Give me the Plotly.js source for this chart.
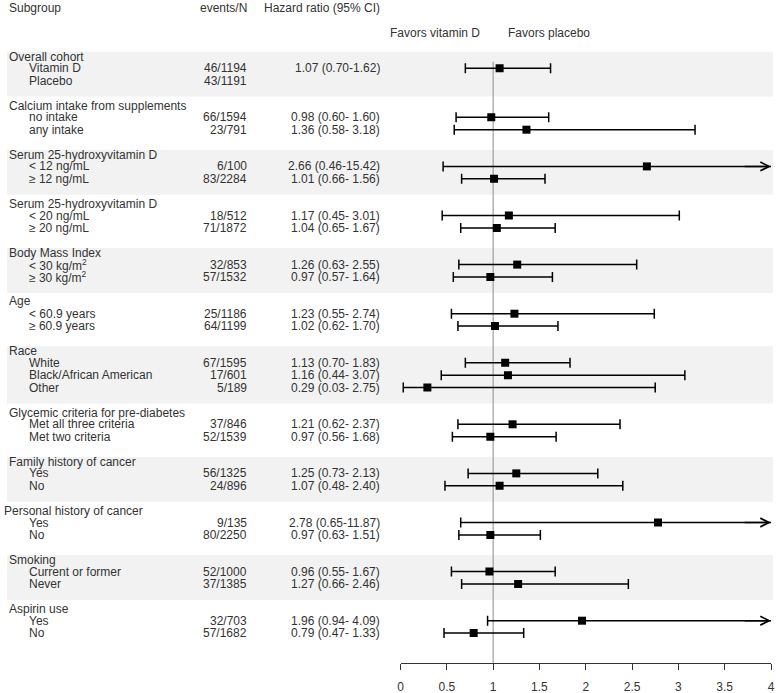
<!DOCTYPE html>
<html><head><meta charset="utf-8">
<script src="https://cdn.plot.ly/plotly-3.0.1.min.js"></script>
<style>html,body{margin:0;padding:0;background:#fff}</style>
</head><body><div id="chart" style="width:780px;height:693px"></div>
<script>
// ---------- DATA ----------
const groupNames = ['Overall cohort', 'Calcium intake from supplements', 'Serum 25-hydroxyvitamin D',
  'Serum 25-hydroxyvitamin D', 'Body Mass Index', 'Age', 'Race', 'Glycemic criteria for pre-diabetes',
  'Family history of cancer', 'Personal history of cancer', 'Smoking', 'Aspirin use'];
const groupSizes = [2, 2, 2, 2, 2, 2, 3, 2, 2, 2, 2, 2];
const subgroupLabels = ['Vitamin D', 'Placebo', 'no intake', 'any intake', '< 12 ng/mL', '≥ 12 ng/mL',
  '< 20 ng/mL', '≥ 20 ng/mL', '< 30 kg/m<sup>2</sup>', '≥ 30 kg/m<sup>2</sup>', '< 60.9 years', '≥ 60.9 years',
  'White', 'Black/African American', 'Other', 'Met all three criteria', 'Met two criteria',
  'Yes', 'No', 'Yes', 'No', 'Current or former', 'Never', 'Yes', 'No'];
const eventsN = ['46/1194', '43/1191', '66/1594', '23/791', '6/100', '83/2284', '18/512', '71/1872',
  '32/853', '57/1532', '25/1186', '64/1199', '67/1595', '17/601', '5/189', '37/846', '52/1539',
  '56/1325', '24/896', '9/135', '80/2250', '52/1000', '37/1385', '32/703', '57/1682'];
const hr = [1.07, null, 0.98, 1.36, 2.66, 1.01, 1.17, 1.04, 1.26, 0.97, 1.23, 1.02, 1.13, 1.16, 0.29,
  1.21, 0.97, 1.25, 1.07, 2.78, 0.97, 0.96, 1.27, 1.96, 0.79];
const ciLow = [0.70, null, 0.60, 0.58, 0.46, 0.66, 0.45, 0.65, 0.63, 0.57, 0.55, 0.62, 0.70, 0.44, 0.03,
  0.62, 0.56, 0.73, 0.48, 0.65, 0.63, 0.55, 0.66, 0.94, 0.47];
const ciHigh = [1.62, null, 1.60, 3.18, 15.42, 1.56, 3.01, 1.67, 2.55, 1.64, 2.74, 1.70, 1.83, 3.07, 2.75,
  2.37, 1.68, 2.13, 2.40, 11.87, 1.51, 1.67, 2.46, 4.09, 1.33];
const hrLabels = ['1.07 (0.70-1.62)', '', '0.98 (0.60- 1.60)', '1.36 (0.58- 3.18)', '2.66 (0.46-15.42)',
  '1.01 (0.66- 1.56)', '1.17 (0.45- 3.01)', '1.04 (0.65- 1.67)', '1.26 (0.63- 2.55)', '0.97 (0.57- 1.64)',
  '1.23 (0.55- 2.74)', '1.02 (0.62- 1.70)', '1.13 (0.70- 1.83)', '1.16 (0.44- 3.07)', '0.29 (0.03- 2.75)',
  '1.21 (0.62- 2.37)', '0.97 (0.56- 1.68)', '1.25 (0.73- 2.13)', '1.07 (0.48- 2.40)', '2.78 (0.65-11.87)',
  '0.97 (0.63- 1.51)', '0.96 (0.55- 1.67)', '1.27 (0.66- 2.46)', '1.96 (0.94- 4.09)', '0.79 (0.47- 1.33)'];
const columnHeaders = ['Subgroup', 'events/N', 'Hazard ratio (95% CI)'];
const favorLabels = ['Favors vitamin D', 'Favors placebo'];
const xTickVals = [0, 0.5, 1, 1.5, 2, 2.5, 3, 3.5, 4];
const xTickText = ['0', '0.5', '1', '1.5', '2', '2.5', '3', '3.5', '4'];

// ---------- LAYOUT GEOMETRY ----------
const W = 780, H = 693, AXIS_Y = 663;
const X0PX = 400.5, X4PX = 771;
const FIRST_HEADER = 56.5, HEADER_TO_ITEM = 11.7, ROW = 12.4, GROUP_GAP = 25;
const FONT = 'Liberation Sans, Arial, sans-serif';
const TXT = '#333333';
const XMAX = 4;

const headerY = [], itemY = [];
let y = FIRST_HEADER;
groupSizes.forEach((n, g) => {
  headerY.push(y);
  let iy = y + HEADER_TO_ITEM;
  for (let i = 0; i < n; i++) { itemY.push(iy); iy += ROW; }
  y = iy - ROW + GROUP_GAP;
});

const px = v => v / W;
const annotations = [];
function txt(x, yv, text, anchor) {
  annotations.push({
    xref: 'paper', yref: 'y', x: px(x), y: yv, text: text, showarrow: false,
    xanchor: anchor, yanchor: 'middle', font: {family: FONT, size: 12, color: TXT}
  });
}
// column headers
txt(7, 7.5, columnHeaders[0], 'left');
txt(249, 7.5, columnHeaders[1], 'right');
txt(382, 7.5, columnHeaders[2], 'right');
txt(482, 32.5, favorLabels[0], 'right');
txt(506, 32.5, favorLabels[1], 'left');

groupNames.forEach((name, g) => {
  let gx = 7, gy = headerY[g];
  if (name === 'Personal history of cancer') gx = 2;
  if (name === 'Age') gy = headerY[g] - 1;
  txt(gx, gy, name, 'left');
});
subgroupLabels.forEach((lab, i) => {
  txt(27, itemY[i], lab, 'left');
  txt(249, itemY[i], eventsN[i], 'right');
  if (hrLabels[i]) txt(382, itemY[i], hrLabels[i], 'right');
});

// points + arrows for CIs beyond the axis
const mx = [], my = [], ePlus = [], eMinus = [];
hr.forEach((v, i) => {
  if (v === null) return;
  mx.push(v); my.push(itemY[i]);
  ePlus.push(ciHigh[i] - v); eMinus.push(v - ciLow[i]);
  if (ciHigh[i] > XMAX) {
    annotations.push({
      xref: 'x', yref: 'y', axref: 'x', ayref: 'y', x: XMAX, y: itemY[i], ax: XMAX - 0.3, ay: itemY[i],
      text: '', showarrow: true, arrowhead: 5, arrowsize: 1.15, arrowwidth: 1.5, arrowcolor: '#000'
    });
  }
});

// shapes: bands + reference line
const shapes = [];
groupSizes.forEach((n, g) => {
  if (g % 2 !== 0) return;
  const first = groupSizes.slice(0, g).reduce((a, b) => a + b, 0);
  const last = first + n - 1;
  shapes.push({type: 'rect', xref: 'paper', yref: 'y', x0: px(7), x1: px(773),
    y0: headerY[g] - 4.8, y1: itemY[last] + 16, fillcolor: '#f2f2f2', line: {width: 0}, layer: 'below'});
});
shapes.push({type: 'line', xref: 'x', yref: 'y', x0: 1, x1: 1, y0: itemY[0] - 6.5, y1: AXIS_Y,
  line: {color: '#8c8c8c', width: 1}, layer: 'below'});

const trace = {
  type: 'scatter', mode: 'markers', x: mx, y: my,
  marker: {symbol: 'square', size: 8, color: '#000', line: {width: 0}},
  error_x: {type: 'data', symmetric: false, array: ePlus, arrayminus: eMinus,
    color: '#000', thickness: 1.5, width: 5},
  hoverinfo: 'none', showlegend: false
};

const layout = {
  width: W, height: H, margin: {l: 0, r: 0, t: 0, b: 0},
  paper_bgcolor: '#fff', plot_bgcolor: 'rgba(0,0,0,0)',
  font: {family: FONT, size: 12, color: TXT},
  showlegend: false,
  xaxis: {domain: [X0PX / W, X4PX / W], range: [0, XMAX], tickvals: xTickVals, ticktext: xTickText,
    ticks: 'outside', ticklen: 6, tickwidth: 1, tickcolor: '#333', showline: true, linecolor: '#333',
    linewidth: 1, showgrid: false, zeroline: false, ticklabelstandoff: 7,
    tickfont: {family: FONT, size: 12, color: TXT}},
  yaxis: {domain: [(H - AXIS_Y) / H, 1], range: [AXIS_Y, 0], visible: false, showgrid: false, zeroline: false},
  shapes: shapes, annotations: annotations
};
Plotly.newPlot('chart', [trace], layout, {staticPlot: true, displayModeBar: false});
</script></body></html>
